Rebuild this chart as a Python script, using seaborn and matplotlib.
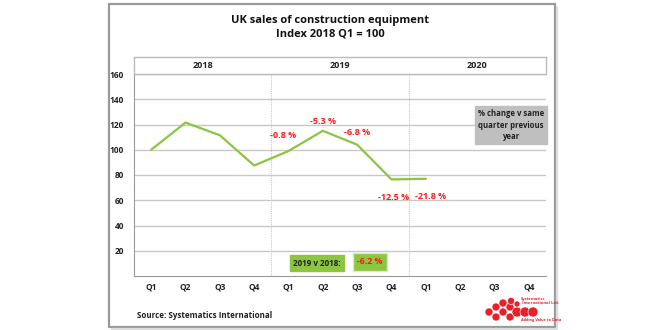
import matplotlib
matplotlib.use("Agg")
import matplotlib.pyplot as plt
import matplotlib.patches as mpatches
from matplotlib.lines import Line2D
import seaborn as sns
import pandas as pd

sns.set_theme(style="white")
plt.rcParams['font.family'] = ['Open Sans', 'DejaVu Sans']

# ---- data ----
quarters = ["Q1", "Q2", "Q3", "Q4"] * 3
years = ["2018", "2019", "2020"]
index_values = [100, 121.5, 111.5, 87.5, 99, 115, 104, 76.5, 77]
pct_labels = ["-0.8 %", "-5.3 %", "-6.8 %", "-12.5 %", "-21.8 %"]
pct_positions = [4, 5, 6, 7, 8]
y_ticks = [20, 40, 60, 80, 100, 120, 140, 160]
summary_label = "2019 v 2018:"
summary_value = "-6.2 %"
legend_note = "% change v same\nquarter previous\nyear"

W, H = 660, 330
fig = plt.figure(figsize=(6.6, 3.3), dpi=100)

def fx(px):
    return px / W

def fy(py):
    return 1 - py / H

# outer frame with a light shadow on the right and bottom edges
fig.lines.append(Line2D([fx(557), fx(557), fx(112)], [fy(7), fy(329), fy(329)],
                        transform=fig.transFigure, color="#dddddd", linewidth=1.6))
fig.patches.append(mpatches.Rectangle((fx(109), fy(327)), fx(446), (323) / H,
                                      transform=fig.transFigure, fill=False,
                                      edgecolor="#9a9a9a", linewidth=1.6))

ax = fig.add_axes([fx(134), fy(276), fx(546) - fx(134), (276 - 74) / H])

df = pd.DataFrame({"pos": list(range(len(index_values))), "val": index_values})
sns.lineplot(data=df, x="pos", y="val", ax=ax, color="#8cc540", linewidth=1.6)

ax.set_xlim(-0.5, 11.5)
ax.set_ylim(0, 160)
ax.set_yticks(y_ticks)
ax.set_yticklabels([str(v) for v in y_ticks], fontsize=6, fontweight="bold", color="#222222")
ax.set_xticks(range(12))
ax.set_xticklabels(quarters, fontsize=6, fontweight="bold", color="#222222")
ax.set_xticks([i - 0.5 for i in range(13)], minor=True)
ax.tick_params(axis="x", which="major", length=0, pad=5)
ax.tick_params(axis="x", which="minor", length=3, color="#888888", direction="out")
ax.tick_params(axis="y", which="major", length=3, color="#888888", pad=4, direction="out")
ax.set_xlabel("")
ax.set_ylabel("")
for yv in y_ticks:
    ax.axhline(yv, color="#c8c8c8", linewidth=1.0, zorder=0)
for xv in [3.5, 7.5]:
    ax.axvline(xv, color="#c8c8c8", linewidth=0.8, linestyle=(0, (1, 1)), zorder=0)
for s in ["top", "right"]:
    ax.spines[s].set_visible(False)
ax.spines["left"].set_color("#999999")
ax.spines["bottom"].set_color("#999999")
ax.spines["left"].set_linewidth(0.8)
ax.spines["bottom"].set_linewidth(0.8)

# percentage labels
offsets = [(-0.15, 12), (0, 7), (0, 10), (0.05, -14), (0.15, -14)]
for p, lab, (dx, dy) in zip(pct_positions, pct_labels, offsets):
    ax.text(p + dx, index_values[p] + dy, lab, color="#ff1a1a",
            fontsize=6.5, fontweight="bold", ha="center", va="center")

# header row with years
hdr = fig.add_axes([fx(134), fy(74), fx(546) - fx(134), (74 - 57) / H])
hdr.set_xlim(-0.5, 11.5)
hdr.set_ylim(0, 1)
hdr.set_xticks([])
hdr.set_yticks([])
for s in hdr.spines.values():
    s.set_color("#bbbbbb")
    s.set_linewidth(1.0)
for i, yr in enumerate(years):
    hdr.text(4 * i + 1.5, 0.5, yr, ha="center", va="center", fontsize=6.5,
             fontweight="bold", color="#222222")

# title
fig.text(0.5, fy(20), "UK sales of construction equipment", ha="center", va="center",
         fontsize=8, fontweight="bold", color="#111111")
fig.text(0.5, fy(34), "Index 2018 Q1 = 100", ha="center", va="center",
         fontsize=8, fontweight="bold", color="#111111")

# grey note box
fig.text(fx(511), fy(125), legend_note, ha="center", va="center", fontsize=5.6,
         fontweight="bold", color="#222222", linespacing=1.35,
         bbox=dict(boxstyle="square,pad=0.4", facecolor="#bfbfbf", edgecolor="#bfbfbf"))

# green summary boxes
fig.text(fx(317), fy(263), summary_label, ha="center", va="center", fontsize=5.8,
         fontweight="bold", color="#222222",
         bbox=dict(boxstyle="square,pad=0.4", facecolor="#8cc540", edgecolor="#8cc540"))
fig.text(fx(370), fy(262), summary_value, ha="center", va="center", fontsize=6.3,
         fontweight="bold", color="#ff1a1a",
         bbox=dict(boxstyle="square,pad=0.5", facecolor="#8cc540", edgecolor="#d8ecc0"))

# source
fig.text(fx(137), fy(316), "Source: Systematics International", ha="left", va="center",
         fontsize=5.8, fontweight="bold", color="#222222")

# logo (approximation)
circles = [(489, 312, 4), (496, 307, 4), (503, 303, 4), (503, 312, 4), (510, 307, 4),
           (496, 317, 4), (510, 317, 4), (517, 312, 5), (525, 312, 5), (533, 312, 5),
           (511, 301, 3.5), (517, 304, 3)]
for cx, cy, r in circles:
    fig.patches.append(mpatches.Ellipse((fx(cx), fy(cy)), 2 * r / W, 2 * r / H,
                                        transform=fig.transFigure, facecolor="#e8202a",
                                        edgecolor="white", linewidth=0.4))
fig.text(fx(521), fy(301), "Systematics\n International Ltd.", fontsize=3, color="#e8202a",
         fontweight="bold", ha="left", va="center", linespacing=1.0)
fig.text(fx(521), fy(320), "Adding Value to Data", fontsize=2.8, color="#e8202a",
         fontweight="bold", ha="left", va="center")

fig.savefig("out.png", dpi=100, facecolor="white")
